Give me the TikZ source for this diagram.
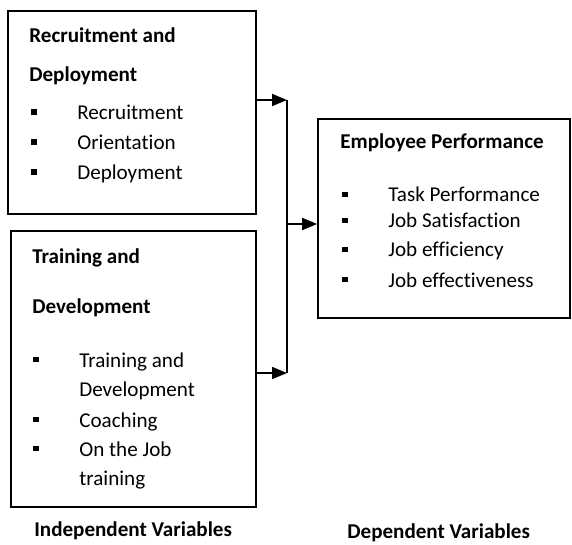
\documentclass[tikz,border=0pt]{standalone}
\usepackage{fontspec}
\setmainfont{Carlito}[Ligatures=NoCommon]
\usetikzlibrary{arrows.meta}
\newcommand{\sqb}{\makebox[0.92cm][l]{\rule[0.1cm]{0.11cm}{0.11cm}}}
\tikzset{
  box/.style={draw, line width=1pt, rectangle, inner sep=0pt},
  txt/.style={anchor=base west, inner sep=0pt, font=\fontsize{12}{14}\selectfont},
  hd/.style={txt, font=\fontsize{12}{14}\selectfont\bfseries},
  arr/.style={line width=1pt, -{Triangle[length=0.3cm,width=0.24cm]}}
}

\begin{document}
\begin{tikzpicture}
  \useasboundingbox (0,0) rectangle (11.44,10.88);
  % boxes
  \node[box, minimum width=4.96cm, minimum height=4.06cm] (rd) at (2.64,8.63) {};
  \node[box, minimum width=4.90cm, minimum height=5.52cm] (td) at (2.67,3.50) {};
  \node[box, minimum width=5.04cm, minimum height=3.98cm] (ep) at (8.88,6.51) {};
  % recruitment and deployment
  \node[hd] (rdh1) at (0.58,10.02) {Recruitment and};
  \node[hd] (rdh2) at (0.58,9.24) {Deployment};
  \node[txt] (rd1) at (0.62,8.48) {\sqb Recruitment};
  \node[txt] (rd2) at (0.62,7.88) {\sqb Orientation};
  \node[txt] (rd3) at (0.62,7.28) {\sqb Deployment};
  % training and development
  \node[hd] (tdh1) at (0.64,5.62) {Training and};
  \node[hd] (tdh2) at (0.64,4.62) {Development};
  \node[txt] (td1) at (0.66,3.54) {\sqb Training and};
  \node[txt] (td1b) at (1.58,2.96) {Development};
  \node[txt] (td2) at (0.66,2.34) {\sqb Coaching};
  \node[txt] (td3) at (0.66,1.76) {\sqb On the Job};
  \node[txt] (td3b) at (1.58,1.18) {training};
  % employee performance
  \node[hd] (eph) at (6.80,7.90) {Employee Performance};
  \node[txt] (ep1) at (6.84,6.84) {\sqb Task Performance};
  \node[txt] (ep2) at (6.84,6.32) {\sqb Job Satisfaction};
  \node[txt] (ep3) at (6.84,5.74) {\sqb Job efficiency};
  \node[txt] (ep4) at (6.84,5.14) {\sqb Job effectiveness};
  % captions
  \node[hd] (iv) at (0.68,0.16) {Independent Variables};
  \node[hd] (dv) at (6.94,0.12) {Dependent Variables};
  % connectors
  \coordinate (jtop) at (5.74,8.88);
  \coordinate (jbot) at (5.74,3.42);
  \coordinate (jmid) at (5.74,6.40);
  \draw[arr] (rd.east |- jtop) -- (jtop);
  \draw[arr] (td.east |- jbot) -- (jbot);
  \draw[line width=1pt] (jtop) -- (jbot);
  \draw[arr] (jmid) -- (ep.west |- jmid);
\end{tikzpicture}
\end{document}
